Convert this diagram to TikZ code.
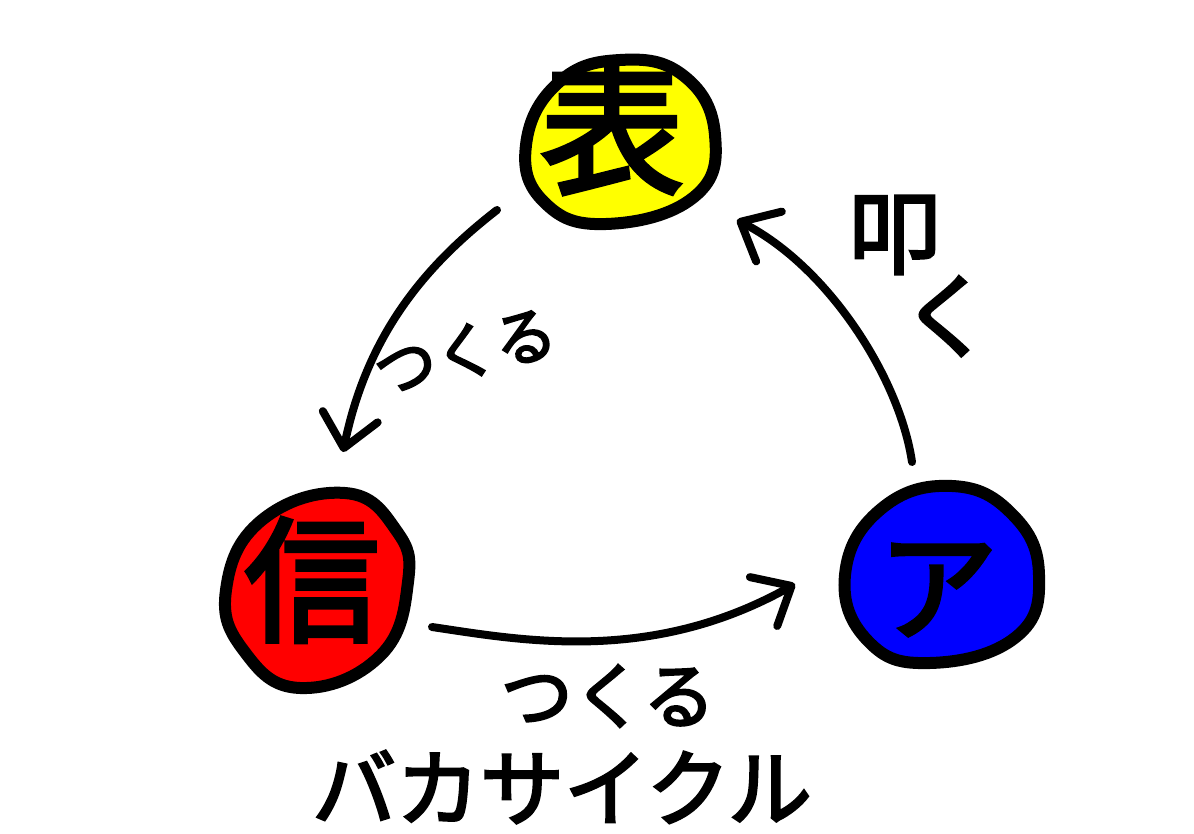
\documentclass[tikz,border=0pt]{standalone}
\usepackage{fontspec}
\newfontfamily\cjk[FakeBold=3]{Noto Sans CJK JP}
\usetikzlibrary{arrows.meta}
\newcommand{\fsz}[1]{\fontsize{#1}{#1}\selectfont}
\tikzset{
  blob/.style={line width=6pt, line join=round},
  hand/.style={line width=4pt, line cap=round, line join=round,
    -{Straight Barb[length=16pt,width=28pt,line width=4pt,round]}},
  lbl/.style={inner sep=0pt, font=\cjk},
}
\begin{document}
\begin{tikzpicture}[x=0.5pt,y=-0.5pt]
\useasboundingbox (0,0) rectangle (1194,834);
% circles
\draw[blob, fill={rgb,255:red,255;green,255;blue,0}] plot[smooth cycle, tension=0.75] coordinates
  {(620,60) (684,76) (715,135) (694,197) (606,224) (544,202) (526,145) (558,83)};
\draw[blob, fill={rgb,255:red,255;green,0;blue,0}] plot[smooth cycle, tension=0.75] coordinates
  {(345,493) (396,530) (408,582) (380,656) (300,688) (244,651) (226,590) (262,520)};
\draw[blob, fill={rgb,255:red,0;green,0;blue,255}] plot[smooth cycle, tension=0.75] coordinates
  {(952,486) (1013,515) (1039,575) (1016,637) (930,663) (868,641) (845,575) (881,509)};
% circle texts
\node[lbl] (Y) at (612,128) {\fsz{72pt}表};
\node[lbl] (R) at (312,580) {\fsz{68pt}信};
\node[lbl] (B) at (938,590) {\fsz{60pt}ア};
% connector ends
\coordinate (a1s) at (497,210);
\coordinate (a1e) at (343,452);
\coordinate (a2s) at (432,627);
\coordinate (a2e) at (795,584);
\coordinate (a3s) at (912,462);
\coordinate (a3e) at (737,220);
\draw[hand] (a1s) .. controls (430,262) and (368,330) .. (a1e);
\draw[hand] (a2s) .. controls (520,640) and (650,665) .. (a2e);
\draw[hand] (a3s) .. controls (900,380) and (830,268) .. (a3e);
% labels
\node[lbl, rotate=14] (L1) at (465,352) {\fsz{31pt}つくる};
\node[lbl] (L2) at (608,696) {\fsz{36pt}つくる};
\node[inner sep=0pt, align=left, font=\cjk\fontsize{46pt}{30pt}\selectfont] (K) at (921,276) {叩\\\hspace*{26pt}く};
\node[lbl] (T) at (562,787) {\fsz{42pt}バカサイクル};
\end{tikzpicture}
\end{document}
